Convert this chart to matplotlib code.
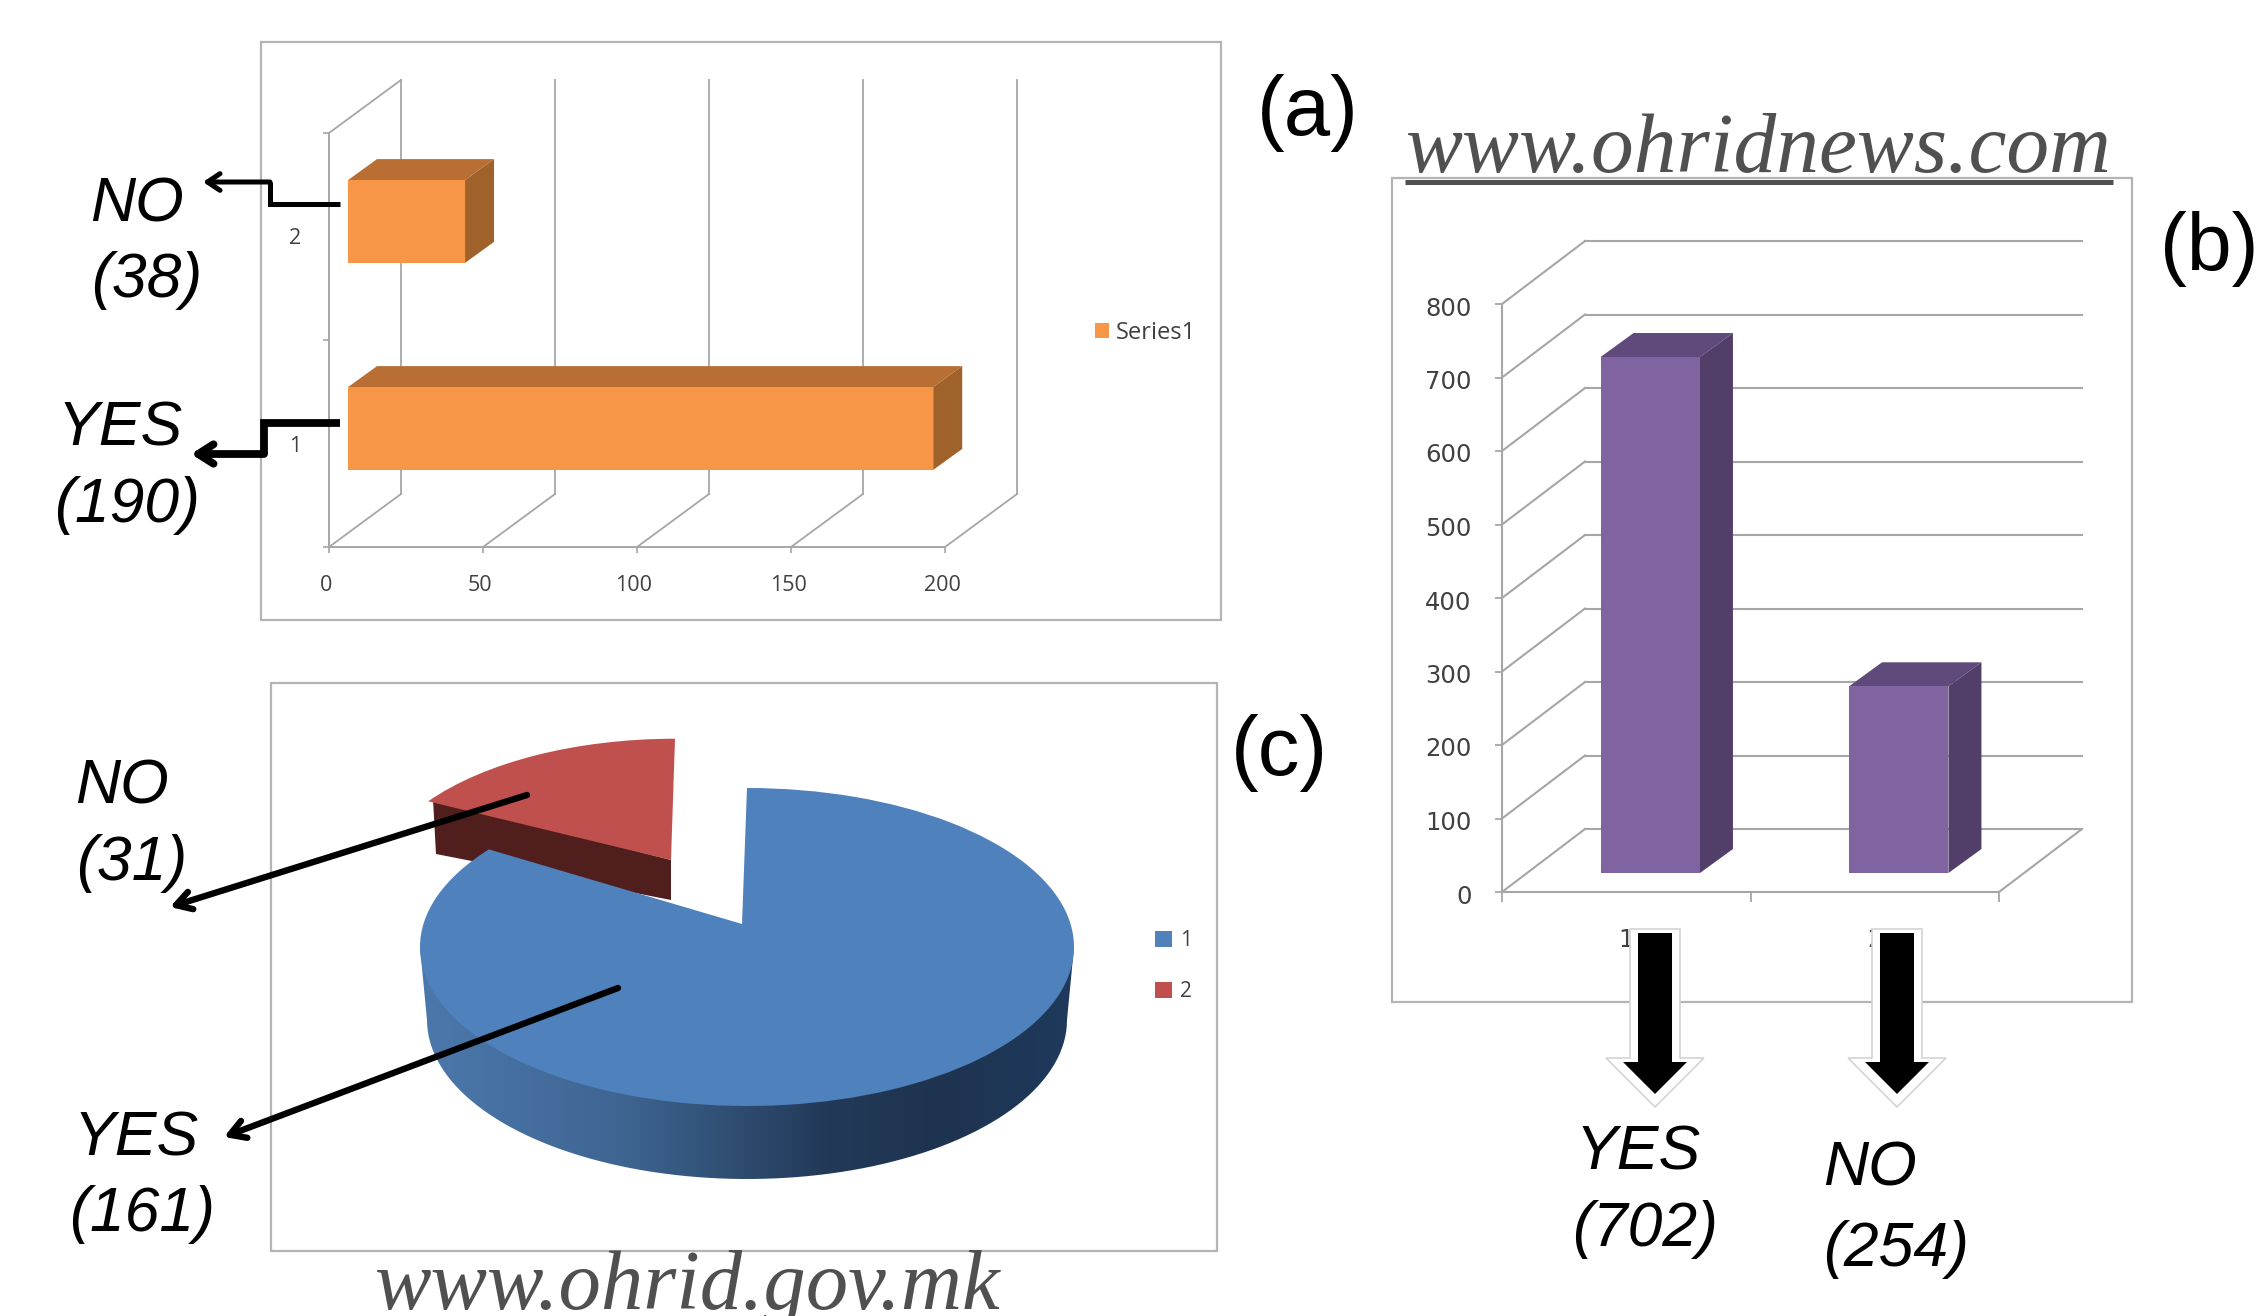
import numpy as np
import matplotlib
matplotlib.use('Agg')
import matplotlib.pyplot as plt
from matplotlib.colors import LinearSegmentedColormap
from matplotlib.path import Path
from matplotlib.patches import Polygon
from matplotlib.transforms import Affine2D

W, H = 2261, 1316

# ---- data
bar_cats_a = [1, 2]
bar_vals_a = [190, 38]
xticks_a = [0, 50, 100, 150, 200]

bar_cats_b = [1, 2]
bar_vals_b = [702, 254]
yticks_b = [0, 100, 200, 300, 400, 500, 600, 700, 800]

pie_labels = ['1', '2']
pie_vals = [161, 31]

# ---- styles
GRID = '#a6a6a6'
FRAME = '#b4b4b4'
TICKC = '#404040'
SANS = ['Liberation Sans', 'DejaVu Sans']
SERIF = ['Liberation Serif', 'DejaVu Serif']

fig = plt.figure(figsize=(W / 100, H / 100), dpi=100, facecolor='white')


def axpx(x0, y0, x1, y1, z=2):
    a = fig.add_axes([x0 / W, 1 - y1 / H, (x1 - x0) / W, (y1 - y0) / H])
    a.patch.set_alpha(0)
    a.set_zorder(z)
    return a


def overlay(z):
    a = fig.add_axes([0, 0, 1, 1])
    a.set_xlim(0, W)
    a.set_ylim(H, 0)
    a.axis('off')
    a.patch.set_alpha(0)
    a.set_zorder(z)
    return a


def nudge(labels, dx, dy):
    for t in labels:
        t.set_transform(t.get_transform() + Affine2D().translate(dx, dy))


bg = overlay(0)
fg = overlay(6)

for x0, y0, x1, y1 in [(261, 42, 1221, 620), (1392, 178, 2132, 1002), (271, 683, 1217, 1251)]:
    bg.add_patch(plt.Rectangle((x0, y0), x1 - x0, y1 - y0, fc='white', ec=FRAME, lw=1.6))

# ---- panel (a): horizontal 3D-look bars
axa = axpx(329, 133, 945, 547)
axa.set_xlim(0, 200)
axa.set_ylim(0.5, 2.5)
kx, ky = 200 / 616, 2 / 414
wall_dx, wall_dy = 72 * kx, 53 * ky
off_x, off_y = 19 * kx, 15 * ky
dep_x, dep_y = 29 * kx, 21 * ky
bh = 0.40
lk = dict(color=GRID, lw=1.3, clip_on=False, zorder=1)
for v in xticks_a:
    axa.plot([v, v + wall_dx], [0.5, 0.5 + wall_dy], **lk)
    axa.plot([v + wall_dx] * 2, [0.5 + wall_dy, 2.5 + wall_dy], **lk)
axa.plot([0, wall_dx], [2.5, 2.5 + wall_dy], **lk)
bars_a = axa.barh(np.array(bar_cats_a) + off_y, bar_vals_a, height=bh, left=off_x,
                  color='#F79646', clip_on=False, zorder=4, label='Series1')
for c, v in zip(bar_cats_a, bar_vals_a):
    yb, yt = c + off_y - bh / 2, c + off_y + bh / 2
    xl, xr = off_x, off_x + v
    axa.add_patch(Polygon([(xl, yt), (xr, yt), (xr + dep_x, yt + dep_y), (xl + dep_x, yt + dep_y)],
                          fc='#B96F33', ec='none', clip_on=False, zorder=3))
    axa.add_patch(Polygon([(xr, yb), (xr, yt), (xr + dep_x, yt + dep_y), (xr + dep_x, yb + dep_y)],
                          fc='#A0622B', ec='none', clip_on=False, zorder=3))
for s in ['top', 'right']:
    axa.spines[s].set_visible(False)
for s in ['left', 'bottom']:
    axa.spines[s].set_color(GRID)
    axa.spines[s].set_linewidth(1.4)
axa.set_xticks(xticks_a)
axa.set_yticks([0.5, 1.5, 2.5], labels=[])
axa.set_yticks(bar_cats_a, labels=[str(c) for c in bar_cats_a], minor=True)
axa.tick_params(axis='both', which='major', length=4, color=GRID, width=1.2)
axa.tick_params(axis='y', which='minor', length=0, pad=20)
axa.tick_params(axis='x', which='major', pad=16)
for t in axa.get_xticklabels() + axa.get_yticklabels(minor=True):
    t.set_fontfamily('Open Sans')
    t.set_fontsize(15.5)
    t.set_color(TICKC)
nudge(axa.get_xticklabels(), -3, 0)
axa.legend(handles=[bars_a], loc='center left', bbox_to_anchor=(1095 / W, 1 - 333 / H),
           bbox_transform=fig.transFigure, frameon=False, borderpad=0, borderaxespad=0,
           handlelength=0.58, handleheight=0.58, handletextpad=0.3,
           prop={'family': 'Open Sans', 'size': 17}, labelcolor=TICKC)

# ---- panel (b): columns
axb = axpx(1502, 304, 1999, 892)
axb.set_xlim(0.5, 2.5)
axb.set_ylim(0, 800)
kx, ky = 2 / 497, 800 / 588
wall_dx, wall_dy = 83 * kx, 63 * ky
off_x, off_y = 24 * kx, 19 * ky
dep_x, dep_y = 33 * kx, 24 * ky
bw = 0.40
lk = dict(color=GRID, lw=1.5, clip_on=False, zorder=1)
for v in yticks_b:
    axb.plot([0.5, 0.5 + wall_dx], [v, v + wall_dy], **lk)
    axb.plot([0.5 + wall_dx, 2.5 + wall_dx], [v + wall_dy] * 2, **lk)
axb.plot([2.5, 2.5 + wall_dx], [0, wall_dy], **lk)
axb.bar(np.array(bar_cats_b) + off_x, bar_vals_b, width=bw, bottom=off_y,
        color='#8064A2', clip_on=False, zorder=4)
for c, v in zip(bar_cats_b, bar_vals_b):
    xl, xr = c + off_x - bw / 2, c + off_x + bw / 2
    yb, yt = off_y, off_y + v
    axb.add_patch(Polygon([(xl, yt), (xr, yt), (xr + dep_x, yt + dep_y), (xl + dep_x, yt + dep_y)],
                          fc='#604A7B', ec='none', clip_on=False, zorder=3))
    axb.add_patch(Polygon([(xr, yb), (xr, yt), (xr + dep_x, yt + dep_y), (xr + dep_x, yb + dep_y)],
                          fc='#523F69', ec='none', clip_on=False, zorder=3))
for s in ['top', 'right']:
    axb.spines[s].set_visible(False)
for s in ['left', 'bottom']:
    axb.spines[s].set_color(GRID)
    axb.spines[s].set_linewidth(1.5)
axb.set_yticks(yticks_b)
axb.set_xticks([0.5, 1.5, 2.5], labels=[])
axb.set_xticks(bar_cats_b, labels=[str(c) for c in bar_cats_b], minor=True)
axb.tick_params(axis='both', which='major', length=7, color=GRID, width=1.3)
axb.tick_params(axis='y', which='major', length=5, pad=17)
axb.tick_params(axis='x', which='minor', length=0, pad=26)
for t in axb.get_yticklabels() + axb.get_xticklabels(minor=True):
    t.set_fontfamily('DejaVu Sans')
    t.set_fontsize(17.5)
    t.set_color(TICKC)
nudge(axb.get_yticklabels(), 0, -2)

# ---- panel (c): pie seen in perspective
CX, CY, RX, RY = 747, 947, 327, 159
axc = axpx(271, 683, 1217, 1251)
dx_, dy_ = (lambda p: (p - CX) / RX), (lambda p: (CY - p) / RY)
wedges, _ = axc.pie(pie_vals, startangle=90, counterclock=False, radius=1,
                    colors=['#4F81BD', '#C0504D'], wedgeprops={'zorder': 4, 'clip_on': False})
axc.set_aspect('auto')
axc.set_xlim(dx_(271), dx_(1217))
axc.set_ylim(dy_(1251), dy_(683))
axc.set_frame_on(False)
blue, red = wedges


def move_apex(w, ax_, ay_):
    p = w.get_path()
    v = p.vertices.copy()
    cx_, cy_ = w.center
    near = np.hypot(v[:, 0] - cx_, v[:, 1] - cy_) < 1e-6
    v[near] = (ax_, ay_)
    w._path = Path(v, p.codes)


# foreshortening of the tilted view moves the apparent edge of the slices a little
blue.set_theta1(blue.theta1 - 6)
red.set_center((dx_(675), dy_(885)))
red.set_radius(0.92)
red.set_theta2(red.theta2 - 3)
move_apex(blue, dx_(742), dy_(924))
move_apex(red, dx_(671), dy_(860))

# body of the pie
th = np.radians(np.linspace(180, 360, 90))
bx, by = CX + 320 * np.cos(th), 1020 + RY * np.sin(th)
px_ = np.r_[420, bx, 1074, CX]
py_ = np.r_[947, 1020 - by + 1020, 947, 947]
body = Polygon(np.c_[dx_(px_), dy_(py_)], fc='none', ec='none', transform=axc.transData)
axc.add_patch(body)
cmap = LinearSegmentedColormap.from_list('s', [(0, '#4B78AC'), (0.3, '#3F6693'), (0.62, '#223A58'),
                                               (0.8, '#1E3350'), (1, '#1F3A5C')])
im = axc.imshow(np.linspace(0, 1, 256)[None, :], cmap=cmap, aspect='auto', zorder=1,
                extent=(dx_(420), dx_(1074), dy_(1190), dy_(940)))
im.set_clip_path(body)
axc.set_xlim(dx_(271), dx_(1217))
axc.set_ylim(dy_(1251), dy_(683))
# inner face of the pulled-out slice
axc.add_patch(Polygon(np.c_[dx_(np.array([433, 671, 671, 436])), dy_(np.array([799, 860, 900, 854]))],
                      fc='#501E1D', ec='none', zorder=2, clip_on=False))
axc.legend(wedges, pie_labels, loc='center left', bbox_to_anchor=(1155 / W, 1 - 966 / H),
           bbox_transform=fig.transFigure, frameon=False, borderpad=0, borderaxespad=0,
           handlelength=0.8, handleheight=0.8, handletextpad=0.4, labelspacing=1.45,
           prop={'family': 'Open Sans', 'size': 15}, labelcolor=TICKC)

# ---- annotations
BIG = 45
for s, x, y in [('NO', 90, 221), ('(38)', 91, 297), ('YES', 58, 445), ('(190)', 54, 522),
                ('NO', 75, 803), ('(31)', 76, 880), ('YES', 73, 1155), ('(161)', 69, 1231),
                ('YES', 1575, 1170), ('(702)', 1572, 1246), ('NO', 1823, 1186), ('(254)', 1823, 1266)]:
    fg.text(x, y, s, family=SANS, style='italic', fontsize=BIG, color='black', va='baseline', ha='left')
for s, x, y, fs in [('(a)', 1257, 135, 60), ('(b)', 2160, 270, 58), ('(c)', 1231, 775, 60)]:
    fg.text(x, y, s, family=SANS, fontsize=fs, color='black', va='baseline', ha='left')
fg.text(1406, 172, 'www.ohridnews.com', family=SERIF, style='italic', fontsize=61.5, color='#505050', va='baseline')
fg.plot([1405, 2113], [182, 182], color='#505050', lw=3.6, solid_capstyle='butt')
fg.text(375, 1309, 'www.ohrid.gov.mk', family=SERIF, style='italic', fontsize=61, color='#505050', va='baseline')


def arrow(pts, lw, head):
    pts = np.asarray(pts, float)
    if len(pts) > 2:
        fg.plot(pts[:-1, 0], pts[:-1, 1], color='k', lw=lw, solid_joinstyle='miter', solid_capstyle='butt')
    fg.annotate('', xy=pts[-1], xytext=pts[-2], xycoords='data', textcoords='data',
                arrowprops=dict(arrowstyle=f'->,head_length={head[0]},head_width={head[1]}',
                                color='k', lw=lw, shrinkA=0, shrinkB=0))


arrow([(340, 204), (270, 204), (270, 182), (203, 182)], 3.6, (0.9, 0.6))
arrow([(340, 423), (264, 423), (264, 454), (191, 454)], 5.6, (1.1, 0.7))
arrow([(527, 795), (170, 907)], 4.6, (1.1, 0.65))
arrow([(618, 988), (224, 1137)], 4.6, (1.1, 0.65))


def block(xc):
    sw, hw = 25, 49
    fg.add_patch(Polygon([(xc - sw, 929), (xc + sw, 929), (xc + sw, 1058), (xc + hw, 1058), (xc, 1107),
                          (xc - hw, 1058), (xc - sw, 1058)], fc='white', ec='#d4d4d4', lw=1.2, zorder=3))
    sw, hw = 17, 32
    fg.add_patch(Polygon([(xc - sw, 933), (xc + sw, 933), (xc + sw, 1062), (xc + hw, 1062), (xc, 1094),
                          (xc - hw, 1062), (xc - sw, 1062)], fc='black', ec='none', zorder=4))


block(1655)
block(1897)

fig.savefig('out.png', dpi=100, facecolor='white')
